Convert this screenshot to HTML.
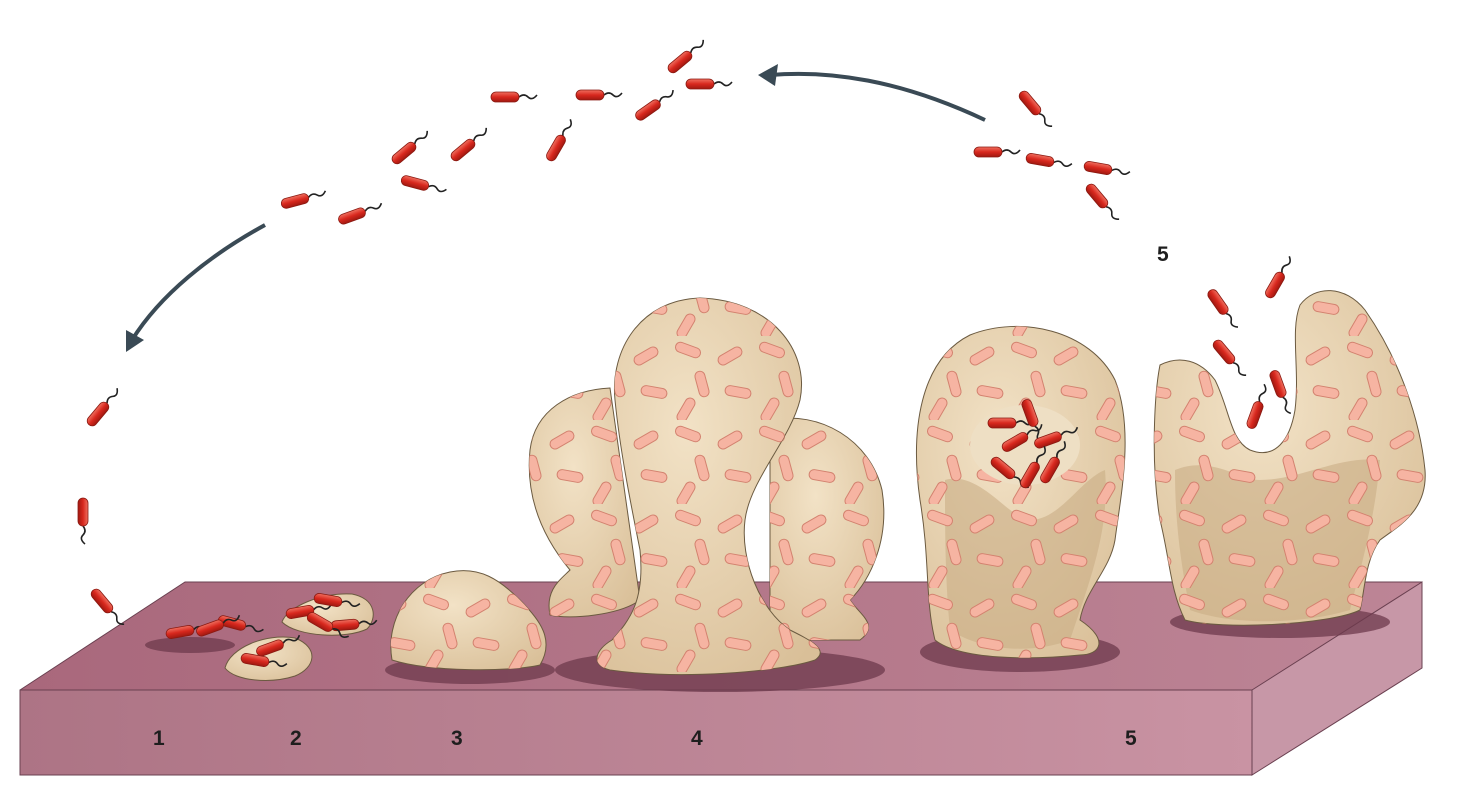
<!DOCTYPE html>
<html><head><meta charset="utf-8"><style>
html,body{margin:0;padding:0;background:#fff;width:1473px;height:812px;overflow:hidden}
svg{display:block}
text{font-family:"Liberation Sans",sans-serif;font-weight:bold;font-size:21px;fill:#1e1e1e}
</style></head><body>
<svg width="1473" height="812" viewBox="0 0 1473 812">
<defs>
<linearGradient id="front" x1="0" x2="1"><stop offset="0" stop-color="#ad7485"/><stop offset="1" stop-color="#c993a3"/></linearGradient>
<linearGradient id="top" x1="0" x2="1"><stop offset="0" stop-color="#a9687c"/><stop offset="1" stop-color="#bd8596"/></linearGradient>
<linearGradient id="red" x1="0" y1="0" x2="0" y2="1"><stop offset="0" stop-color="#f07060"/><stop offset="0.5" stop-color="#d8281e"/><stop offset="1" stop-color="#a01810"/></linearGradient>
<radialGradient id="beige" cx="0.4" cy="0.35" r="0.8"><stop offset="0" stop-color="#f2e2c6"/><stop offset="1" stop-color="#d9bf98"/></radialGradient>
<g id="b"><path d="M14,0 q5,-4 9,0 t9,-2" fill="none" stroke="#222" stroke-width="1.6"/><rect x="-14" y="-5" width="28" height="10" rx="5" fill="url(#red)" stroke="#8a1a12" stroke-width="0.8"/></g>
<g id="p"><rect x="-13" y="-5" width="26" height="10" rx="5" fill="#f6b4a2" stroke="#d3826f" stroke-width="1"/></g>
<pattern id="rods" width="84" height="84" patternUnits="userSpaceOnUse">
<use href="#p" transform="translate(16,14) rotate(20)"/>
<use href="#p" transform="translate(58,20) rotate(-30)"/>
<use href="#p" transform="translate(30,48) rotate(75)"/>
<use href="#p" transform="translate(66,56) rotate(10)"/>
<use href="#p" transform="translate(14,74) rotate(-60)"/>
</pattern>
</defs>

<polygon points="20,690 185,582 1422,582 1252,690" fill="url(#top)"/>
<polygon points="20,690 1252,690 1252,775 20,775" fill="url(#front)" stroke="#6a4050" stroke-width="1"/>
<polygon points="1252,690 1422,582 1422,668 1252,775" fill="#c797a7" stroke="#6a4050" stroke-width="1"/>
<polyline points="20,690 185,582 1422,582" fill="none" stroke="#6a4050" stroke-width="1"/>
<text x="153" y="745">1</text><text x="290" y="745">2</text><text x="451" y="745">3</text><text x="691" y="745">4</text><text x="1125" y="745">5</text>
<text x="1157" y="261">5</text>

<g fill="#6e3a4c" opacity="0.75">
<ellipse cx="190" cy="645" rx="45" ry="8"/>
<ellipse cx="470" cy="670" rx="85" ry="14"/>
<ellipse cx="720" cy="670" rx="165" ry="22"/>
<ellipse cx="1020" cy="652" rx="100" ry="20"/>
<ellipse cx="1280" cy="622" rx="110" ry="16"/>
</g>

<path d="M282,622 c5,-15 40,-30 70,-28 c25,5 25,25 15,35 c-20,10 -70,8 -85,-7z" fill="url(#beige)" stroke="#6b5a40"/>
<path d="M225,668 c5,-20 40,-35 70,-30 c25,10 20,30 0,38 c-25,8 -60,5 -70,-8z" fill="url(#beige)" stroke="#6b5a40"/>

<path d="M392,660 C385,620 410,580 450,572 C480,566 500,580 520,600 C540,620 555,640 540,665 C510,672 430,672 392,660 Z" fill="url(#beige)" stroke="#6b5a40"/>
<path d="M392,660 C385,620 410,580 450,572 C480,566 500,580 520,600 C540,620 555,640 540,665 C510,672 430,672 392,660 Z" fill="url(#rods)"/>

<path d="M550,615 C545,590 560,580 570,570 C545,540 525,500 530,450 C535,410 570,390 610,388 L640,600 C620,615 570,620 550,615Z" fill="url(#beige)" stroke="#6b5a40"/>
<path d="M550,615 C545,590 560,580 570,570 C545,540 525,500 530,450 C535,410 570,390 610,388 L640,600 C620,615 570,620 550,615Z" fill="url(#rods)"/>
<path d="M770,420 C820,410 870,440 882,490 C890,540 870,580 850,600 C860,615 880,625 860,640 L770,640Z" fill="url(#beige)" stroke="#6b5a40"/>
<path d="M770,420 C820,410 870,440 882,490 C890,540 870,580 850,600 C860,615 880,625 860,640 L770,640Z" fill="url(#rods)"/>
<path d="M612,640 C595,650 590,665 610,670 C680,680 780,672 815,660 C830,650 810,640 790,630 C760,610 740,560 745,520 C750,480 790,440 800,400 C810,350 770,300 700,298 C640,300 610,350 615,400 C620,450 630,500 640,550 C645,600 630,620 612,640Z" fill="url(#beige)" stroke="#6b5a40"/>
<path d="M612,640 C595,650 590,665 610,670 C680,680 780,672 815,660 C830,650 810,640 790,630 C760,610 740,560 745,520 C750,480 790,440 800,400 C810,350 770,300 700,298 C640,300 610,350 615,400 C620,450 630,500 640,550 C645,600 630,620 612,640Z" fill="url(#rods)"/>

<path d="M935,640 C925,600 930,560 920,500 C910,430 920,360 970,335 C1020,315 1090,330 1115,380 C1135,430 1120,500 1115,540 C1110,570 1085,590 1080,620 C1110,640 1100,655 1080,655 C1030,660 960,660 935,640Z" fill="url(#beige)" stroke="#6b5a40"/>
<path d="M945,480 C980,470 1010,520 1030,520 C1060,520 1080,480 1105,470 C1110,530 1090,580 1070,640 C1030,655 980,650 950,630 C945,580 945,530 945,480Z" fill="#c9ad86" opacity="0.6"/>
<path d="M935,640 C925,600 930,560 920,500 C910,430 920,360 970,335 C1020,315 1090,330 1115,380 C1135,430 1120,500 1115,540 C1110,570 1085,590 1080,620 C1110,640 1100,655 1080,655 C1030,660 960,660 935,640Z" fill="url(#rods)"/>
<ellipse cx="1025" cy="445" rx="55" ry="40" fill="#eedfc4"/>

<path d="M1185,620 C1170,590 1170,560 1160,520 C1150,460 1155,390 1160,365 C1180,355 1200,360 1215,380 C1230,410 1230,440 1250,450 C1275,460 1290,440 1295,410 C1300,370 1290,330 1300,305 C1315,285 1345,285 1365,310 C1400,360 1420,420 1425,470 C1428,510 1400,525 1380,540 C1365,560 1365,590 1360,610 C1330,625 1220,630 1185,620Z" fill="url(#beige)" stroke="#6b5a40"/>
<path d="M1175,470 C1210,455 1240,480 1260,480 C1300,480 1340,455 1380,460 C1375,520 1360,570 1350,610 C1300,625 1230,625 1190,610 C1180,560 1175,520 1175,470Z" fill="#c9ad86" opacity="0.6"/>
<path d="M1185,620 C1170,590 1170,560 1160,520 C1150,460 1155,390 1160,365 C1180,355 1200,360 1215,380 C1230,410 1230,440 1250,450 C1275,460 1290,440 1295,410 C1300,370 1290,330 1300,305 C1315,285 1345,285 1365,310 C1400,360 1420,420 1425,470 C1428,510 1400,525 1380,540 C1365,560 1365,590 1360,610 C1330,625 1220,630 1185,620Z" fill="url(#rods)"/>

<path d="M985,120 C900,80 830,70 770,75" fill="none" stroke="#3a4a55" stroke-width="4"/>
<polygon points="758,75 778,64 775,86" fill="#3a4a55"/>
<path d="M265,225 C210,255 160,295 132,340" fill="none" stroke="#3a4a55" stroke-width="4"/>
<polygon points="126,352 126,330 144,340" fill="#3a4a55"/>

<g>
<use href="#b" transform="translate(680,62) rotate(-40)"/>
<use href="#b" transform="translate(700,84)"/>
<use href="#b" transform="translate(590,95)"/>
<use href="#b" transform="translate(505,97)"/>
<use href="#b" transform="translate(648,110) rotate(-35)"/>
<use href="#b" transform="translate(556,148) rotate(-60)"/>
<use href="#b" transform="translate(463,150) rotate(-40)"/>
<use href="#b" transform="translate(404,153) rotate(-40)"/>
<use href="#b" transform="translate(415,183) rotate(15)"/>
<use href="#b" transform="translate(295,201) rotate(-15)"/>
<use href="#b" transform="translate(352,216) rotate(-20)"/>
<use href="#b" transform="translate(1030,103) rotate(50)"/>
<use href="#b" transform="translate(988,152)"/>
<use href="#b" transform="translate(1040,160) rotate(10)"/>
<use href="#b" transform="translate(1098,168) rotate(10)"/>
<use href="#b" transform="translate(1097,196) rotate(50)"/>
<use href="#b" transform="translate(1218,302) rotate(55)"/>
<use href="#b" transform="translate(1275,285) rotate(-60)"/>
<use href="#b" transform="translate(1224,352) rotate(50)"/>
<use href="#b" transform="translate(1278,384) rotate(70)"/>
<use href="#b" transform="translate(1255,415) rotate(-70)"/>
<use href="#b" transform="translate(98,414) rotate(-50)"/>
<use href="#b" transform="translate(83,512) rotate(90)"/>
<use href="#b" transform="translate(102,601) rotate(50)"/>
<use href="#b" transform="translate(180,632) rotate(-10)"/>
<use href="#b" transform="translate(232,623) rotate(15)"/>
<use href="#b" transform="translate(210,628) rotate(-20)"/>
<use href="#b" transform="translate(300,612) rotate(-10)"/>
<use href="#b" transform="translate(328,600) rotate(10)"/>
<use href="#b" transform="translate(345,625) rotate(-5)"/>
<use href="#b" transform="translate(320,622) rotate(30)"/>
<use href="#b" transform="translate(270,648) rotate(-20)"/>
<use href="#b" transform="translate(255,660) rotate(10)"/>
<use href="#b" transform="translate(1002,423)"/>
<use href="#b" transform="translate(1030,413) rotate(70)"/>
<use href="#b" transform="translate(1015,442) rotate(-30)"/>
<use href="#b" transform="translate(1048,440) rotate(-20)"/>
<use href="#b" transform="translate(1003,468) rotate(40)"/>
<use href="#b" transform="translate(1030,475) rotate(-60)"/>
<use href="#b" transform="translate(1050,470) rotate(-60)"/>
</g>
</svg>
</body></html>
